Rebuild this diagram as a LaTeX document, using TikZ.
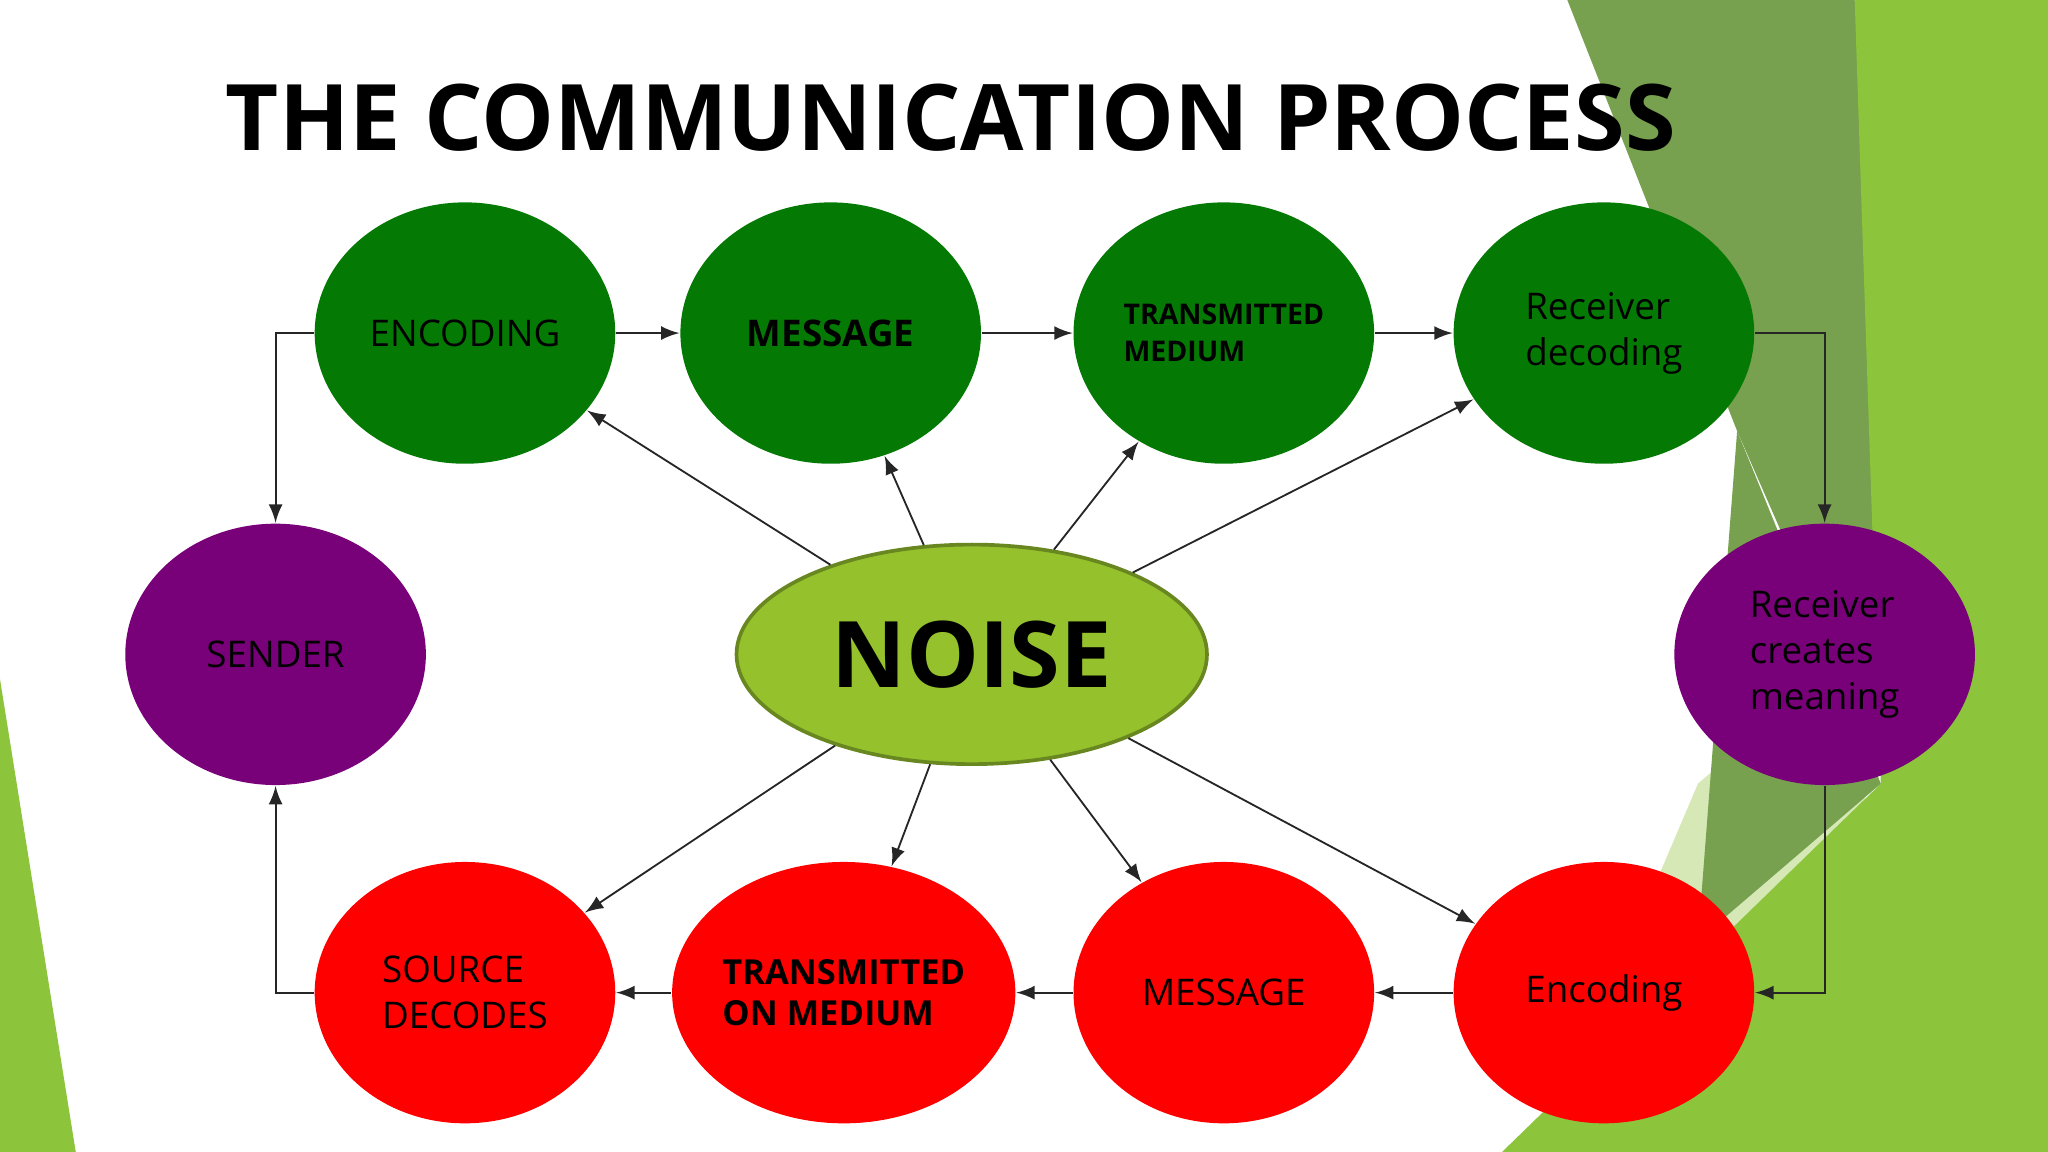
\documentclass[tikz,border=0pt]{standalone}
\usepackage{fontspec}
\setmainfont{Open Sans}
\usetikzlibrary{arrows,calc,shapes}
\tikzset{>=latex}
\definecolor{dgreen}{HTML}{047A04}
\definecolor{dpurple}{HTML}{780078}
\definecolor{lgreen}{HTML}{95C12D}
\definecolor{bgA}{HTML}{8CC43C}
\definecolor{bgB}{HTML}{77A04F}
\definecolor{bgC}{HTML}{D5E8B5}
\tikzstyle{top}=[ellipse,fill=dgreen,inner sep=0pt,minimum width=2.3cm,minimum height=2cm,align=left,font=\fontsize{8}{10}\selectfont]
\tikzstyle{side}=[ellipse,fill=dpurple,inner sep=0pt,minimum width=2.3cm,minimum height=2cm,align=left,font=\fontsize{8}{10}\selectfont]
\tikzstyle{bot}=[ellipse,fill=red,inner sep=0pt,minimum width=2.3cm,minimum height=2cm,align=left,font=\fontsize{8}{10}\selectfont]
\tikzstyle{link}=[->,thin,black!85]

\begin{document}
\begin{tikzpicture}[x=0.01cm,y=-0.01cm,inner sep=1mm]
    \useasboundingbox (0,0) rectangle (1568,882);
    % background
    \fill[bgC] (1300,600) -- (1440,480) -- (1420,700) -- (1240,882) -- (1180,882) -- cycle;
    \fill[bgB] (1200,0) -- (1420,0) -- (1470,650) -- (1330,330) -- cycle;
    \fill[bgA] (1420,0) -- (1568,0) -- (1568,882) -- (1150,882) -- (1440,600) -- cycle;
    \fill[bgB] (1330,330) -- (1440,600) -- (1300,720) -- cycle;
    \fill[bgA] (0,520) -- (58,882) -- (0,882) -- cycle;

    \node[font=\bfseries\fontsize{20}{22}\selectfont] (title) at (728,90) {THE COMMUNICATION PROCESS};

    \def \ytop {255};
    \def \ybot {760};
    \node[top] (enc) at (356,\ytop) {ENCODING};
    \node[top,font=\bfseries\fontsize{8}{10}\selectfont] (msg) at (636,\ytop) {MESSAGE};
    \node[top,font=\bfseries\fontsize{6.2}{8}\selectfont] (med) at (937,\ytop) {TRANSMITTED\\MEDIUM};
    \node[top] (dec) at (1228,\ytop) {Receiver\\decoding};

    \node[side] (send) at (211,501) {SENDER};
    \node[side] (mean) at (1397,501) {Receiver\\creates\\meaning};

    \node[bot] (src) at (356,\ybot) {SOURCE\\DECODES};
    \node[bot,font=\bfseries\fontsize{7.5}{9}\selectfont] (onmed) at (646,\ybot) {TRANSMITTED\\ON MEDIUM};
    \node[bot] (bmsg) at (937,\ybot) {MESSAGE};
    \node[bot] (benc) at (1228,\ybot) {Encoding};

    \node[ellipse,draw=lgreen!70!black,thick,fill=lgreen,inner sep=0pt,minimum width=3.6cm,minimum height=1.68cm,font=\bfseries\fontsize{20}{22}\selectfont] (noise) at (744,501) {NOISE};

    \draw[link] (enc) -- (msg);
    \draw[link] (msg) -- (med);
    \draw[link] (med) -- (dec);
    \draw[link] (dec.east) -| (mean.north);
    \draw[link] (mean.south) |- (benc.east);
    \draw[link] (benc) -- (bmsg);
    \draw[link] (bmsg) -- (onmed);
    \draw[link] (onmed) -- (src);
    \draw[link] (src.west) -| (send.south);
    \draw[link] (enc.west) -| (send.north);

    \foreach \t in {enc,msg,med,dec,src,onmed,bmsg,benc} {
        \draw[link] (noise) -- (\t);
    };
\end{tikzpicture}
\end{document}
